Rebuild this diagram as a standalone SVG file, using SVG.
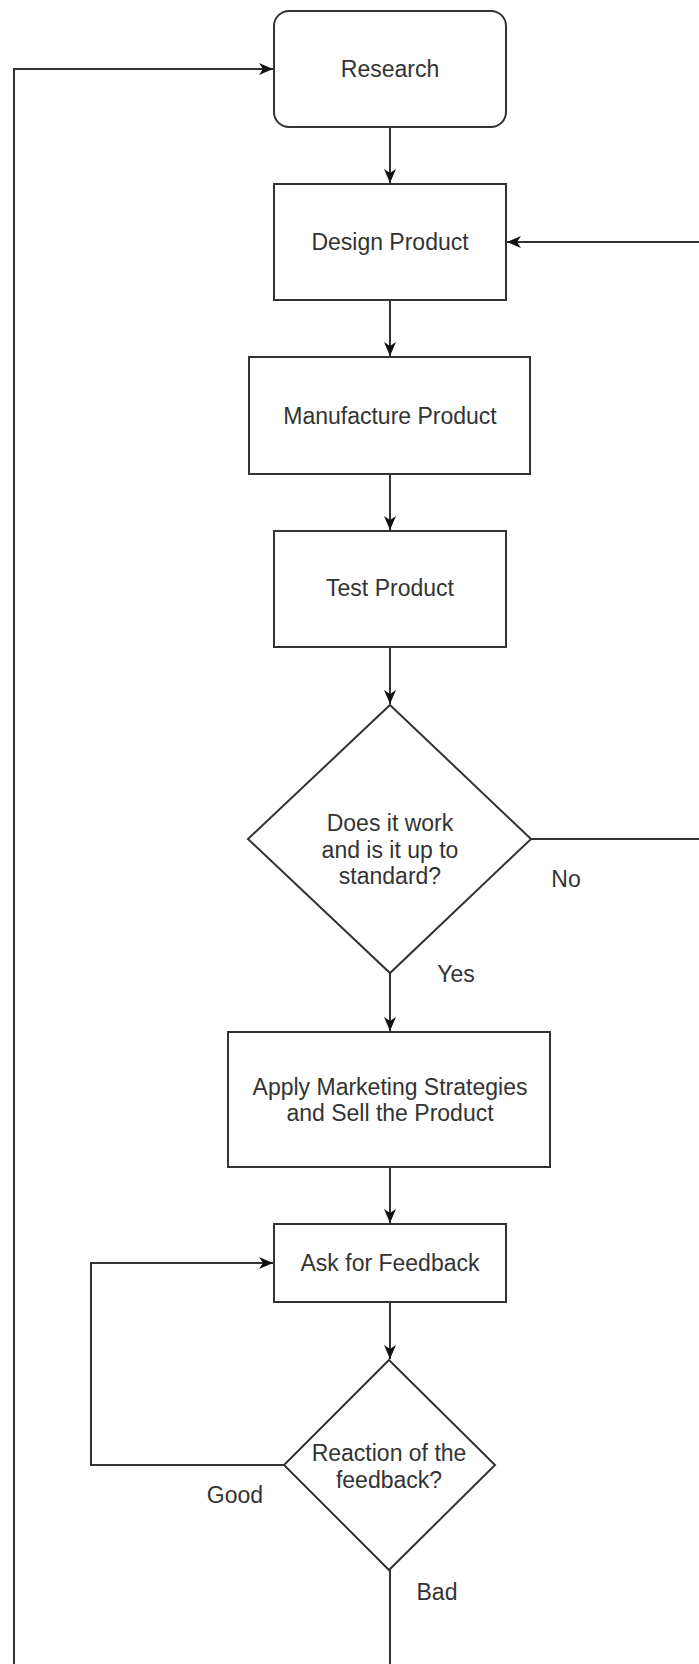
<svg xmlns="http://www.w3.org/2000/svg" width="699" height="1664" viewBox="0 0 699 1664">
  <style>
    .box { fill: #ffffff; stroke: #333333; stroke-width: 2; }
    .edge { fill: none; stroke: #333333; stroke-width: 2; }
    .label { font-family: "Liberation Sans", Arial, sans-serif; font-size: 23px; fill: #333333; text-anchor: middle; }
  </style>
  <defs>
    <marker id="arrow" viewBox="0 0 14 12" refX="14" refY="6" markerWidth="14" markerHeight="12" markerUnits="userSpaceOnUse" orient="auto">
      <path d="M0,0 L14,6 L0,12 L4,6 Z" fill="#111111"/>
    </marker>
  </defs>
  <rect width="699" height="1664" fill="#ffffff"/>

  <!-- connectors -->
  <g id="connectors">
    <path class="edge" d="M390,127 V183" marker-end="url(#arrow)"/>
    <path class="edge" d="M390,300 V356" marker-end="url(#arrow)"/>
    <path class="edge" d="M390,474 V530" marker-end="url(#arrow)"/>
    <path class="edge" d="M390,647 V704" marker-end="url(#arrow)"/>
    <path class="edge" d="M390,973 V1031" marker-end="url(#arrow)"/>
    <path class="edge" d="M390,1167 V1223" marker-end="url(#arrow)"/>
    <path class="edge" d="M390,1302 V1359" marker-end="url(#arrow)"/>
    <!-- "No" loops back to Design Product -->
    <path class="edge" d="M531,839 H720 V242 H507" marker-end="url(#arrow)"/>
    <!-- "Good" loops back to Ask for Feedback -->
    <path class="edge" d="M284,1465 H91 V1263 H273" marker-end="url(#arrow)"/>
    <!-- "Bad" loops back to Research -->
    <path class="edge" d="M390,1570 V1690 H14 V69 H273" marker-end="url(#arrow)"/>
    <text class="label" x="566" y="887">No</text>
    <text class="label" x="456" y="982">Yes</text>
    <text class="label" x="235" y="1503">Good</text>
    <text class="label" x="437" y="1600">Bad</text>
  </g>

  <g id="research">
    <rect class="box" x="274" y="11" width="232" height="116" rx="15" ry="15"/>
    <text class="label" x="390" y="77">Research</text>
  </g>
  <g id="design">
    <rect class="box" x="274" y="184" width="232" height="116"/>
    <text class="label" x="390" y="250">Design Product</text>
  </g>
  <g id="manufacture">
    <rect class="box" x="249" y="357" width="281" height="117"/>
    <text class="label" x="390" y="424">Manufacture Product</text>
  </g>
  <g id="test">
    <rect class="box" x="274" y="531" width="232" height="116"/>
    <text class="label" x="390" y="596">Test Product</text>
  </g>
  <g id="check-standard">
    <polygon class="box" points="390,705 531,839 390,973 248,839"/>
    <text class="label" x="390" y="831">Does it work</text>
    <text class="label" x="390" y="858">and is it up to</text>
    <text class="label" x="390" y="884">standard?</text>
  </g>
  <g id="marketing">
    <rect class="box" x="228" y="1032" width="322" height="135"/>
    <text class="label" x="390" y="1095">Apply Marketing Strategies</text>
    <text class="label" x="390" y="1121">and Sell the Product</text>
  </g>
  <g id="feedback">
    <rect class="box" x="274" y="1224" width="232" height="78"/>
    <text class="label" x="390" y="1271">Ask for Feedback</text>
  </g>
  <g id="reaction">
    <polygon class="box" points="389,1360 495,1465 389,1570 284,1465"/>
    <text class="label" x="389" y="1461">Reaction of the</text>
    <text class="label" x="389" y="1488">feedback?</text>
  </g>
</svg>
